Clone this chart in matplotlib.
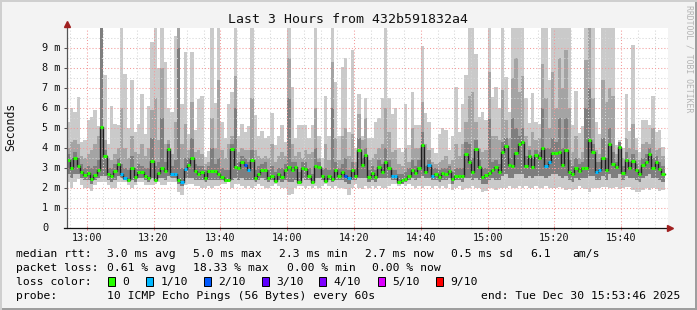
import numpy as np
import matplotlib
matplotlib.use("Agg")
import matplotlib.pyplot as plt
from matplotlib.patches import Rectangle

# one sample per minute, minute 0 = 12:54 (graph spans 180 minutes)
median_ms = [
    3.42, 3.02, 3.48, 3.12, 2.82, 2.65, 2.75, 2.45, 2.65, 2.92, 5.05, 3.58, 2.68, 2.62, 2.85, 3.18, 2.72, 2.48,
    2.38, 2.98, 2.55, 2.82, 2.78, 2.62, 2.52, 3.35, 2.42, 2.75, 2.98, 2.85, 3.95, 2.72, 2.72, 2.42, 2.28, 2.95,
    3.15, 3.52, 2.85, 2.72, 2.82, 2.52, 2.85, 2.85, 2.85, 2.68, 2.55, 2.42, 2.42, 3.95, 3.05, 2.98, 3.32, 3.15,
    2.88, 3.38, 2.48, 2.72, 2.92, 2.92, 2.52, 2.62, 2.35, 2.72, 2.55, 2.92, 3.05, 2.88, 3.05, 2.32, 3.02, 2.95,
    2.62, 2.28, 3.12, 3.05, 2.62, 2.35, 2.62, 2.45, 2.92, 2.62, 2.82, 2.62, 2.48, 2.92, 2.62, 3.88, 3.15, 3.65,
    2.55, 2.75, 2.55, 3.05, 2.82, 3.28, 3.02, 2.58, 2.58, 2.32, 2.38, 2.45, 2.62, 2.88, 2.75, 3.02, 4.15, 2.78,
    3.15, 2.62, 2.72, 2.55, 2.75, 2.72, 2.85, 2.45, 2.62, 2.62, 2.58, 3.72, 3.28, 2.78, 3.95, 3.05, 2.55, 2.65,
    2.75, 2.92, 3.05, 2.82, 3.78, 4.12, 3.15, 3.08, 3.75, 4.22, 4.32, 3.08, 3.62, 3.05, 3.65, 3.48, 3.98, 3.12,
    3.28, 3.75, 3.75, 3.78, 3.15, 3.88, 2.82, 2.68, 2.98, 2.85, 3.02, 3.02, 4.38, 3.80, 2.82, 2.92, 3.50, 2.92,
    4.22, 3.22, 3.05, 4.05, 2.75, 3.42, 3.02, 3.35, 2.88, 2.68, 3.15, 3.32, 3.72, 3.02, 3.32, 2.95, 2.68,
]

# lost pings out of 10 per minute
loss_tenths = [
    0, 0, 0, 0, 0, 0, 0, 0, 0, 0, 0, 0, 0, 0, 0, 0, 1, 1, 0, 0, 0, 0, 0, 0, 0, 0, 0, 0, 0, 0, 0, 1, 1, 0, 1, 1,
    0, 0, 0, 0, 0, 0, 0, 0, 0, 0, 0, 0, 0, 0, 0, 0, 0, 2, 1, 0, 0, 0, 0, 0, 0, 0, 0, 0, 0, 0, 0, 0, 0, 0, 0, 0,
    0, 0, 0, 0, 0, 0, 0, 0, 0, 0, 0, 2, 1, 0, 0, 0, 0, 0, 0, 0, 0, 0, 0, 0, 0, 1, 1, 0, 0, 0, 0, 0, 0, 0, 0, 0,
    1, 1, 0, 0, 0, 0, 0, 0, 0, 0, 0, 0, 0, 0, 0, 0, 0, 0, 0, 0, 0, 0, 0, 0, 0, 0, 0, 0, 0, 0, 0, 0, 0, 0, 0, 1,
    1, 0, 0, 0, 0, 0, 0, 0, 0, 0, 0, 0, 0, 0, 1, 1, 0, 0, 0, 0, 0, 0, 0, 0, 0, 0, 0, 0, 0, 0, 0, 0, 0, 0, 0,
]

# smoke: fastest / slowest ping and the inner bands (ms, clipped at 10)
smoke_min = [
    2.30, 2.00, 2.30, 2.45, 2.15, 2.00, 2.00, 1.85, 2.15, 2.30, 2.30, 2.30, 2.15, 2.00, 2.00, 2.30, 2.30, 2.30,
    2.15, 2.00, 2.15, 2.30, 2.30, 2.15, 2.15, 2.15, 2.20, 2.30, 2.15, 2.15, 2.30, 2.30, 2.30, 1.80, 1.65, 2.15,
    2.20, 2.20, 2.10, 2.10, 2.00, 2.00, 2.10, 2.00, 2.10, 2.10, 2.20, 2.20, 2.30, 2.00, 2.20, 2.20, 2.10, 2.00,
    2.10, 2.00, 2.10, 2.20, 2.10, 2.00, 2.00, 2.10, 2.20, 2.10, 2.00, 2.00, 1.65, 1.70, 2.00, 2.10, 2.10, 2.00,
    2.10, 2.00, 2.10, 2.00, 2.10, 2.20, 2.10, 2.00, 2.10, 2.00, 2.00, 1.95, 1.65, 2.00, 2.20, 2.00, 1.95, 2.10,
    2.00, 2.10, 2.00, 2.10, 2.00, 2.00, 2.10, 2.20, 2.20, 2.10, 2.20, 2.10, 2.20, 2.10, 2.00, 2.10, 2.00, 2.10,
    2.10, 2.00, 2.10, 2.00, 2.10, 2.00, 2.20, 1.90, 2.00, 2.10, 1.90, 2.00, 2.00, 2.10, 2.00, 2.00, 1.80, 1.85,
    2.00, 2.00, 1.90, 2.00, 2.00, 2.00, 2.10, 2.00, 2.00, 2.10, 2.00, 2.10, 2.00, 2.00, 2.10, 2.00, 2.00, 2.10,
    2.00, 2.00, 2.00, 2.05, 2.00, 1.90, 1.95, 1.90, 1.95, 2.10, 2.00, 1.95, 1.80, 2.00, 2.00, 2.00, 2.05, 2.05,
    2.00, 2.00, 2.05, 1.95, 2.00, 2.05, 2.05, 1.90, 1.80, 1.80, 1.90, 2.00, 1.90, 2.00, 1.95, 1.85, 1.90,
]
smoke_lo = [
    2.7, 2.5, 2.7, 2.7, 2.5, 2.4, 2.4, 2.2, 2.4, 2.5, 2.6, 2.6, 2.4, 2.3, 2.4, 2.6, 2.5, 2.4,
    2.3, 2.4, 2.3, 2.5, 2.5, 2.4, 2.3, 2.5, 2.35, 2.5, 2.5, 2.4, 2.6, 2.5, 2.5, 2.2, 2.1, 2.5,
    2.5, 2.5, 2.4, 2.4, 2.4, 2.3, 2.4, 2.4, 2.4, 2.4, 2.4, 2.3, 2.3, 2.4, 2.5, 2.4, 2.5, 2.4,
    2.4, 2.4, 2.3, 2.4, 2.5, 2.4, 2.3, 2.4, 2.3, 2.4, 2.3, 2.4, 2.3, 2.3, 2.4, 2.2, 2.5, 2.4,
    2.4, 2.2, 2.5, 2.5, 2.4, 2.3, 2.4, 2.3, 2.4, 2.4, 2.4, 2.3, 2.2, 2.4, 2.4, 2.5, 2.5, 2.5,
    2.3, 2.4, 2.3, 2.5, 2.5, 2.5, 2.5, 2.4, 2.4, 2.2, 2.2, 2.3, 2.4, 2.5, 2.4, 2.5, 2.6, 2.5,
    2.5, 2.4, 2.4, 2.3, 2.4, 2.4, 2.5, 2.2, 2.4, 2.4, 2.3, 2.5, 2.5, 2.4, 2.5, 2.4, 2.2, 2.2,
    2.4, 2.5, 2.4, 2.4, 2.6, 2.7, 2.5, 2.5, 2.7, 2.7, 2.7, 2.5, 2.6, 2.5, 2.6, 2.6, 2.6, 2.5,
    2.6, 2.7, 2.7, 2.6, 2.5, 2.6, 2.4, 2.3, 2.5, 2.4, 2.5, 2.5, 2.6, 2.6, 2.4, 2.4, 2.6, 2.4,
    2.7, 2.5, 2.5, 2.7, 2.4, 2.6, 2.5, 2.5, 2.4, 2.3, 2.5, 2.6, 2.7, 2.5, 2.5, 2.4, 2.3,
]
smoke_dark = [
    3.7, 3.5, 3.8, 3.5, 3.2, 3.0, 3.1, 3.0, 3.1, 3.4, 10.0, 3.9, 3.0, 3.0, 3.2, 3.5, 3.2, 3.0,
    2.9, 3.6, 3.0, 3.2, 3.1, 3.0, 3.0, 4.5, 3.1, 3.3, 5.5, 3.3, 4.2, 3.1, 3.4, 9.0, 3.0, 3.5,
    3.5, 4.5, 3.2, 3.1, 3.1, 2.9, 3.1, 4.0, 3.2, 3.5, 3.0, 2.9, 2.9, 4.2, 6.0, 3.3, 3.6, 3.5,
    3.3, 3.9, 2.9, 3.1, 3.2, 3.3, 2.9, 3.1, 2.8, 3.0, 3.0, 3.2, 6.5, 3.3, 3.3, 2.8, 3.3, 3.3,
    3.0, 2.7, 4.0, 3.3, 2.9, 3.0, 2.9, 6.0, 3.3, 3.0, 3.2, 3.5, 2.9, 3.3, 3.0, 4.5, 3.5, 4.0,
    2.9, 3.1, 2.9, 3.4, 3.2, 4.0, 3.4, 2.9, 2.9, 2.7, 2.7, 2.8, 3.0, 3.4, 3.1, 3.4, 4.8, 3.1,
    3.4, 3.0, 3.0, 2.9, 3.0, 3.0, 3.1, 2.8, 3.0, 3.0, 3.0, 4.3, 4.2, 3.5, 4.4, 3.4, 3.0, 3.0,
    5.5, 3.3, 3.4, 3.2, 4.3, 4.5, 3.5, 5.5, 5.0, 4.6, 5.0, 3.6, 3.9, 3.5, 3.9, 3.8, 6.0, 4.0,
    4.0, 4.5, 4.3, 5.5, 4.0, 5.5, 3.4, 3.1, 3.5, 3.2, 3.3, 6.0, 7.0, 4.2, 3.3, 3.3, 4.5, 3.5,
    5.0, 3.8, 3.3, 4.3, 3.1, 3.8, 3.3, 3.7, 3.2, 3.0, 3.5, 3.7, 4.0, 3.5, 3.6, 3.3, 3.1,
]
smoke_hi = [
    4.0, 4.3, 4.4, 4.2, 3.6, 3.5, 3.7, 3.9, 4.2, 4.6, 10.0, 4.4, 3.5, 3.4, 3.7, 4.0, 6.0, 4.0,
    3.5, 4.6, 3.8, 3.7, 4.2, 3.6, 4.0, 5.9, 6.5, 4.4, 8.0, 4.2, 4.4, 3.7, 5.3, 10.0, 4.2, 5.2,
    3.9, 6.3, 3.8, 3.9, 3.7, 3.2, 3.3, 5.5, 4.0, 7.4, 3.9, 3.5, 4.2, 4.6, 7.6, 3.8, 4.0, 3.9,
    3.9, 6.5, 3.9, 3.6, 3.5, 3.6, 3.5, 4.2, 3.3, 3.6, 3.8, 3.6, 8.5, 4.2, 3.6, 3.8, 3.5, 3.9,
    3.7, 3.8, 6.0, 3.5, 3.0, 4.2, 3.4, 8.3, 4.5, 3.4, 4.6, 5.0, 3.6, 4.7, 3.3, 5.7, 4.4, 5.5,
    3.4, 3.5, 3.7, 4.0, 4.2, 6.0, 4.8, 3.8, 3.9, 3.2, 3.1, 4.0, 3.3, 5.0, 4.0, 4.0, 6.3, 4.2,
    3.9, 3.3, 3.2, 3.3, 3.4, 3.6, 3.2, 3.4, 4.2, 3.6, 4.2, 5.3, 6.6, 6.8, 5.3, 4.0, 3.8, 3.9,
    7.8, 4.6, 4.6, 4.4, 6.9, 5.4, 4.5, 7.5, 8.5, 6.8, 7.6, 4.6, 4.1, 4.8, 4.4, 4.5, 8.2, 6.5,
    5.0, 7.8, 6.0, 8.5, 7.0, 8.9, 6.0, 3.8, 4.6, 3.5, 3.8, 8.4, 10.0, 6.5, 3.9, 3.7, 7.4, 6.3,
    7.0, 6.6, 3.7, 4.3, 3.5, 4.5, 4.0, 5.2, 3.9, 3.4, 4.2, 4.3, 4.2, 5.0, 3.9, 4.0, 3.6,
]
smoke_max = [
    5.3, 6.0, 5.8, 6.55, 4.3, 4.4, 5.4, 5.55, 5.9, 5.1, 10.0, 7.65, 4.2, 6.1, 5.2, 5.15, 10.0, 7.7,
    5.0, 7.4, 4.8, 5.2, 6.7, 4.7, 6.1, 9.3, 10.0, 8.0, 10.0, 8.3, 6.0, 5.8, 9.6, 10.0, 6.2, 8.8,
    4.7, 8.8, 4.9, 6.45, 6.6, 3.55, 3.85, 10.0, 6.25, 10.0, 5.3, 4.5, 6.2, 6.8, 10.0, 4.6, 5.2, 4.8,
    5.1, 10.0, 5.65, 4.6, 4.85, 4.5, 4.6, 5.75, 4.15, 4.6, 5.15, 4.3, 10.0, 7.05, 4.5, 5.15, 5.15, 5.15,
    4.5, 5.15, 10.0, 4.6, 3.5, 6.6, 4.6, 10.0, 7.3, 4.6, 8.05, 8.5, 4.8, 8.9, 4.0, 6.7, 4.6, 6.5,
    4.5, 4.5, 5.3, 5.5, 6.5, 10.0, 6.5, 5.7, 6.0, 4.0, 3.8, 6.2, 4.15, 6.8, 5.15, 5.15, 9.1, 5.75,
    5.3, 4.0, 3.75, 4.7, 5.0, 4.9, 3.9, 4.6, 7.05, 4.8, 6.2, 7.65, 10.0, 10.0, 8.7, 5.55, 5.8, 5.4,
    10.0, 6.55, 7.05, 6.0, 10.0, 7.55, 5.8, 10.0, 10.0, 10.0, 10.0, 6.5, 5.25, 6.75, 5.3, 5.2, 10.0, 10.0,
    7.4, 10.0, 10.0, 10.0, 10.0, 10.0, 10.0, 5.15, 6.85, 4.75, 5.1, 10.0, 10.0, 10.0, 5.3, 4.7, 10.0, 10.0,
    10.0, 10.0, 4.15, 4.4, 4.0, 6.7, 4.85, 9.15, 4.5, 3.8, 5.4, 5.4, 5.15, 6.6, 4.8, 4.9, 4.05,
]

time_labels = ["13:00", "13:20", "13:40", "14:00", "14:20", "14:40", "15:00", "15:20", "15:40"]
y_labels = ["0", "1 m", "2 m", "3 m", "4 m", "5 m", "6 m", "7 m", "8 m", "9 m"]

loss_keys = ["0", "1/10", "2/10", "3/10", "4/10", "5/10", "9/10"]
loss_colors = ["#26ff00", "#00b8ff", "#0059ff", "#5e00ff", "#7e00ff", "#dd00ff", "#ff0000"]
loss_color_of = {0: "#26ff00", 1: "#00b8ff", 2: "#0059ff", 3: "#5e00ff", 4: "#7e00ff", 5: "#dd00ff", 9: "#ff0000"}

title = "Last 3 Hours from 432b591832a4"
rtt_stats = ["3.0 ms avg", "5.0 ms max", "2.3 ms min", "2.7 ms now", "0.5 ms sd", "6.1", "am/s"]
loss_stats = ["0.61 % avg", "18.33 % max", "0.00 % min", "0.00 % now"]
probe_text = "10 ICMP Echo Pings (56 Bytes) every 60s"
end_text = "end: Tue Dec 30 15:53:46 2025"

W, H = 697, 310
MONO = "DejaVu Sans Mono"
plt.rcParams["font.family"] = MONO


def fx(px):
    return px / W


def fy(py):
    return 1 - py / H


fig = plt.figure(figsize=(W / 100, H / 100), dpi=100, facecolor="#f3f3f3")

# 3d-ish frame like rrdtool
fig.add_artist(Rectangle((0, 0), 1, 2 / H, transform=fig.transFigure, color="#9e9e9e", lw=0))
fig.add_artist(Rectangle((1 - 2 / W, 0), 2 / W, 1, transform=fig.transFigure, color="#9e9e9e", lw=0))
fig.add_artist(Rectangle((0, 1 - 2 / H), 1, 2 / H, transform=fig.transFigure, color="#cfcfcf", lw=0))
fig.add_artist(Rectangle((0, 0), 2 / W, 1, transform=fig.transFigure, color="#cfcfcf", lw=0))

ax = fig.add_axes([fx(66.7), 1 - 228 / H, (668 - 66.7) / W, 200 / H])
ax.set_facecolor("white")
ax.set_xlim(0, 180)
ax.set_ylim(0, 10)

n = len(median_ms)
edges = np.arange(n + 1)


def ext(a):
    return np.append(a, a[-1])


ax.fill_between(edges, ext(smoke_min), ext(smoke_max), step="post", color="#cacaca", lw=0, zorder=1)
ax.fill_between(edges, ext(smoke_lo), ext(smoke_hi), step="post", color="#a4a4a4", lw=0, zorder=1.1)
ax.fill_between(edges, ext(smoke_lo), ext(smoke_dark), step="post", color="#7e7e7e", lw=0, zorder=1.2)

# grid on top of the smoke
minutes = np.arange(1, 180, 5)
major_min = [(int(t[:2]) * 60 + int(t[3:])) - (12 * 60 + 54) for t in time_labels]
dot = (0, (1, 2))
for m in minutes:
    if m in major_min:
        continue
    ax.axvline(m, color="#d6d6d6", lw=0.75, ls=dot, zorder=2)
for v in np.arange(0.5, 10, 1.0):
    ax.axhline(v, color="#d6d6d6", lw=0.75, ls=dot, zorder=2)
for m in major_min:
    ax.axvline(m, color="#f39a9a", lw=0.75, ls=dot, zorder=2.1)
for v in range(1, 10):
    ax.axhline(v, color="#f39a9a", lw=0.75, ls=dot, zorder=2.1)

# median line with loss colour
ax.step(edges, ext(median_ms), where="post", color="#1e1e1e", lw=1.0, zorder=3)
seg_colors = [loss_color_of[l] for l in loss_tenths]
ax.hlines(median_ms, edges[:-1], edges[1:], colors=seg_colors, lw=2.2, zorder=4)

for s in ax.spines.values():
    s.set_visible(False)
ax.set_xticks(major_min)
ax.set_xticklabels([])
ax.tick_params(axis="x", length=3, width=0.75, color="#f08080", direction="inout")
ax.set_yticks(range(10))
ax.set_yticklabels([])
ax.tick_params(axis="y", length=2.5, width=0.75, color="#555555", direction="out")

# axes with arrows
ax.plot([0, 0], [0, 1.02], transform=ax.transAxes, color="#555555", lw=0.9, clip_on=False, zorder=5)
ax.plot([-0.005, 1.0], [0, 0], transform=ax.transAxes, color="#111111", lw=0.9, clip_on=False, zorder=5)
ax.plot([0], [1.022], transform=ax.transAxes, marker="^", ms=4.5, color="#a02020", clip_on=False, zorder=6)
ax.plot([1.003], [0], transform=ax.transAxes, marker=">", ms=4.5, color="#a02020", clip_on=False, zorder=6)

for v, lab in enumerate(y_labels):
    ax.text(-0.041, v, lab, transform=ax.get_yaxis_transform(), ha="left", va="center",
            fontsize=7.4, color="#111111")
for m, lab in zip(major_min, time_labels):
    ax.text(m, -0.052, lab, transform=ax.get_xaxis_transform(), ha="center", va="center",
            fontsize=7.3, color="#111111")

fig.text(fx(347.5), fy(19.3), title, ha="center", va="center", fontsize=9.5, color="#111111")
fig.text(fx(11), fy(127), "Seconds", rotation=90, ha="center", va="center", fontsize=8.3, color="#111111")
fig.text(fx(688.5), fy(5), "RRDTOOL / TOBI OETIKER", rotation=-90, ha="center", va="top",
         fontsize=5.9, color="#b4b4b4")

# legend block
fs = 8.2
rows_y = [254.3, 268.3, 281.7, 295.7]
fig.text(fx(16), fy(rows_y[0]), "median rtt:", ha="left", va="center", fontsize=fs)
for txt, px in zip(rtt_stats, [107.3, 193.3, 279.3, 365, 451, 530, 572.3]):
    fig.text(fx(px), fy(rows_y[0]), txt, ha="left", va="center", fontsize=fs)
fig.text(fx(16), fy(rows_y[1]), "packet loss:", ha="left", va="center", fontsize=fs)
for txt, px in zip(loss_stats, [107.3, 193.3, 286.7, 372.3]):
    fig.text(fx(px), fy(rows_y[1]), txt, ha="left", va="center", fontsize=fs)
fig.text(fx(16), fy(rows_y[2]), "loss color:", ha="left", va="center", fontsize=fs)
box_x = [108.3, 146, 203.7, 261.7, 319.3, 377.7, 435.7]
for key, col, bx in zip(loss_keys, loss_colors, box_x):
    fig.add_artist(Rectangle((fx(bx), fy(rows_y[2] + 4.5)), 7 / W, 9 / H, transform=fig.transFigure,
                             facecolor=col, edgecolor="#000000", lw=0.7))
    fig.text(fx(bx + 14.3), fy(rows_y[2]), key, ha="left", va="center", fontsize=fs)
fig.text(fx(16), fy(rows_y[3]), "probe:", ha="left", va="center", fontsize=fs)
fig.text(fx(107.3), fy(rows_y[3]), probe_text, ha="left", va="center", fontsize=fs)
fig.text(fx(680), fy(rows_y[3]), end_text, ha="right", va="center", fontsize=fs)

fig.savefig("out.png", dpi=100, facecolor=fig.get_facecolor())
